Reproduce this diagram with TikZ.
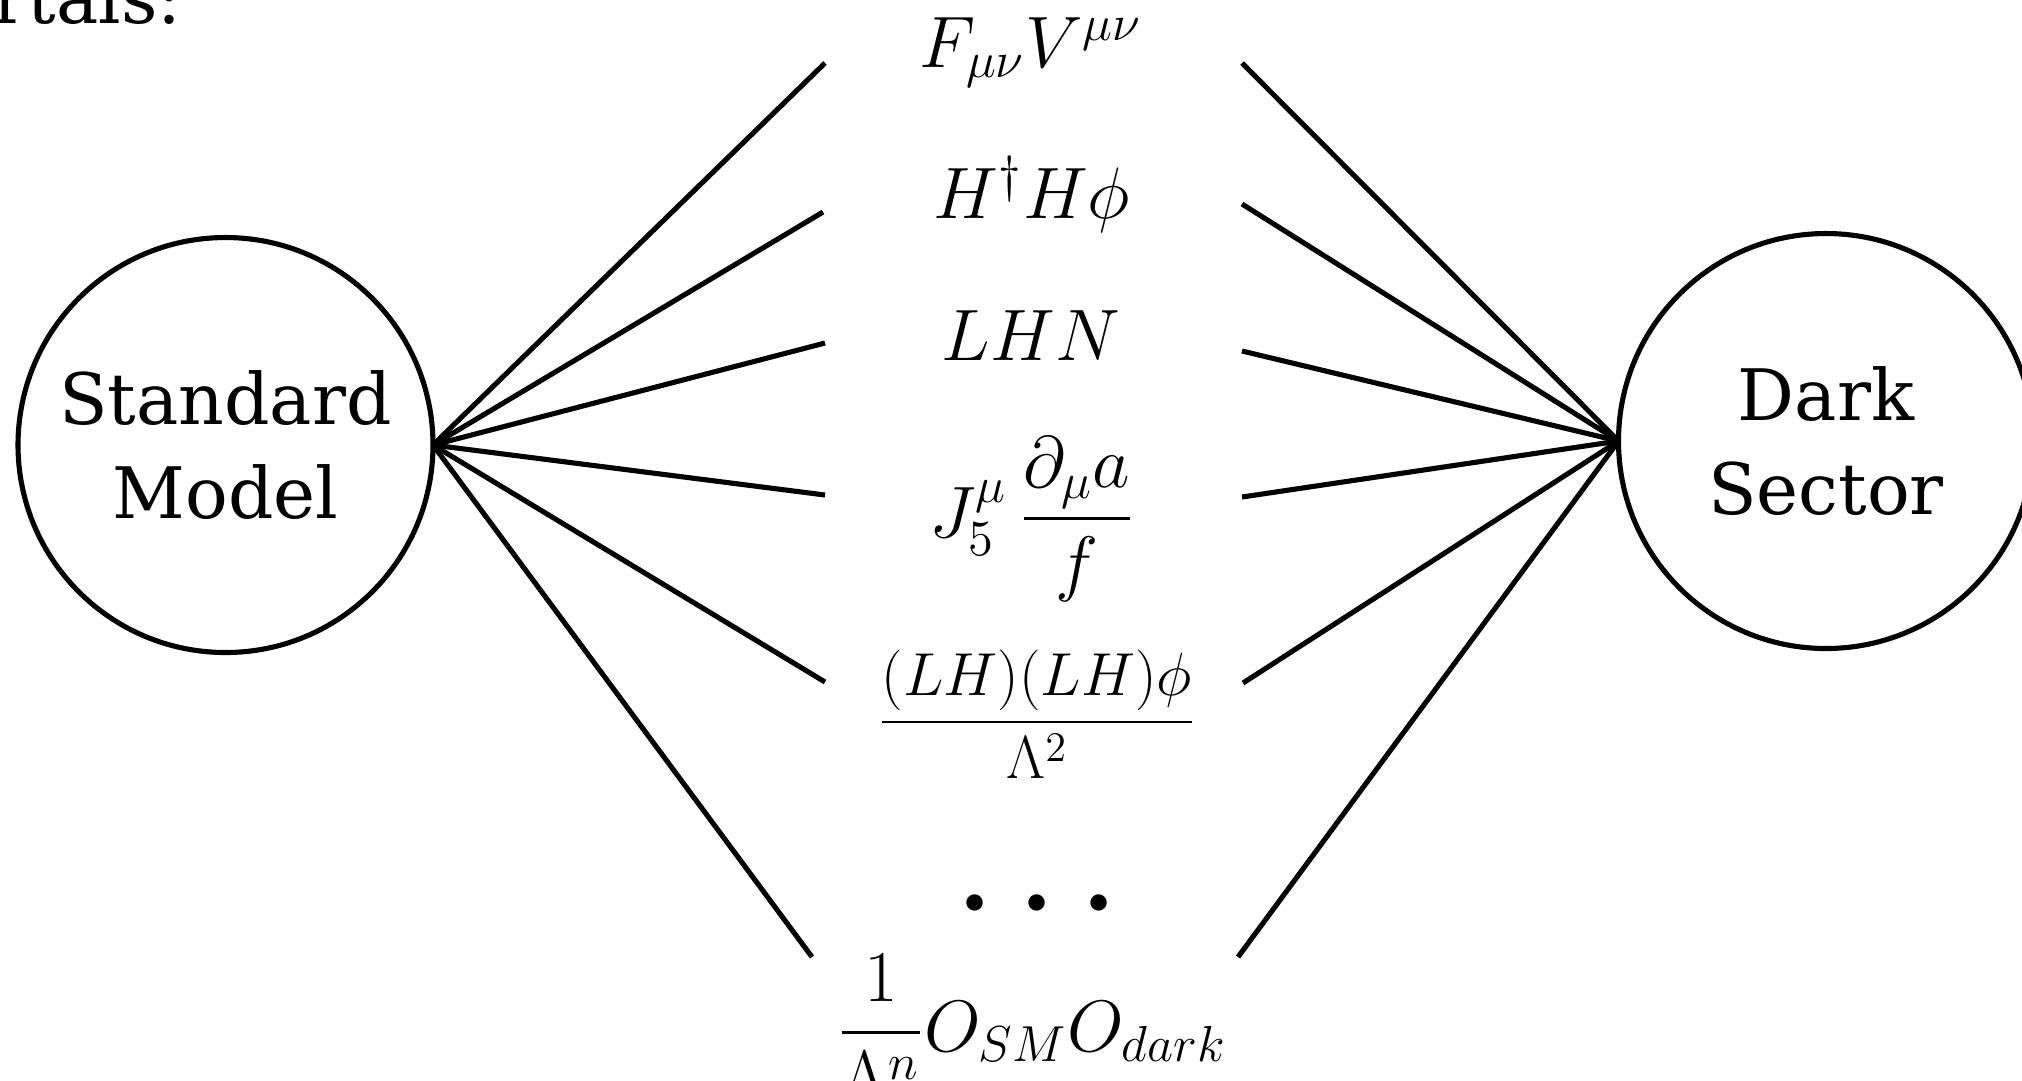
\documentclass[tikz,border=0pt]{standalone}
\usepackage[no-math]{fontspec}
\usepackage{amsmath, amssymb}
\usetikzlibrary{positioning}
\newfontfamily\sectorfont{DejaVu Serif}

\begin{document}
\begin{tikzpicture}[x=0.1mm, y=-0.1mm, line width=1.45pt,
    sector/.style={circle, draw, minimum size=41.5mm, inner sep=0pt, outer sep=0pt,
      align=center, font=\sectorfont\fontsize{20.2}{27}\selectfont},
    op/.style={anchor=base, inner sep=0pt, font=\fontsize{19.6}{24}\selectfont}]
        \useasboundingbox (0,0) rectangle (2022,1080);
        \clip (0,0) rectangle (2022,1080);
        \node (pt) [anchor=base east, inner sep=0pt, font=\sectorfont\fontsize{20.2}{27}\selectfont] at (184,23) {ortals:};
        \node (sm) [sector] at (225.5,445) {Standard\\Model};
        \node (ds) [sector] at (1826,441) {Dark\\Sector};
        \node (o1) [op] at (1031,67) {$F_{\mu\nu}V^{\mu\nu}$};
        \node (o2) [op] at (1032,218) {$H^\dagger H\phi$};
        \node (o3) [op] at (1031,360) {$LHN$};
        \node (o4) [op] at (1032,537) {$\displaystyle J_5^\mu\,\frac{\partial_\mu a}{f}$};
        \node (o5) [op, font=\fontsize{17.8}{21}\selectfont] at (1037,737) {$\displaystyle\frac{(LH)(LH)\phi}{\Lambda^2}$};
        \node (dt) [op, font=\fontsize{11.5}{14}\selectfont] at (1037,913) {$\bullet\hspace{9pt}\bullet\hspace{9pt}\bullet$};
        \node (o6) [op] at (1032,1051) {$\displaystyle\frac{1}{\Lambda^n}O_{SM}O_{dark}$};
        % free ends of the portal lines
        \coordinate (a1) at (825,63);
        \coordinate (a2) at (823,212);
        \coordinate (a3) at (825,343);
        \coordinate (a4) at (825,495);
        \coordinate (a5) at (825,682);
        \coordinate (a6) at (812,957);
        \coordinate (b1) at (1242,63);
        \coordinate (b2) at (1242,204);
        \coordinate (b3) at (1242,351);
        \coordinate (b4) at (1242,497);
        \coordinate (b5) at (1243,683);
        \coordinate (b6) at (1238,957);
        \draw (sm.east) -- (a1);
        \draw (sm.east) -- (a2);
        \draw (sm.east) -- (a3);
        \draw (sm.east) -- (a4);
        \draw (sm.east) -- (a5);
        \draw (sm.east) -- (a6);
        \draw (b1) -- (ds.west);
        \draw (b2) -- (ds.west);
        \draw (b3) -- (ds.west);
        \draw (b4) -- (ds.west);
        \draw (b5) -- (ds.west);
        \draw (b6) -- (ds.west);
      \end{tikzpicture}
\end{document}
